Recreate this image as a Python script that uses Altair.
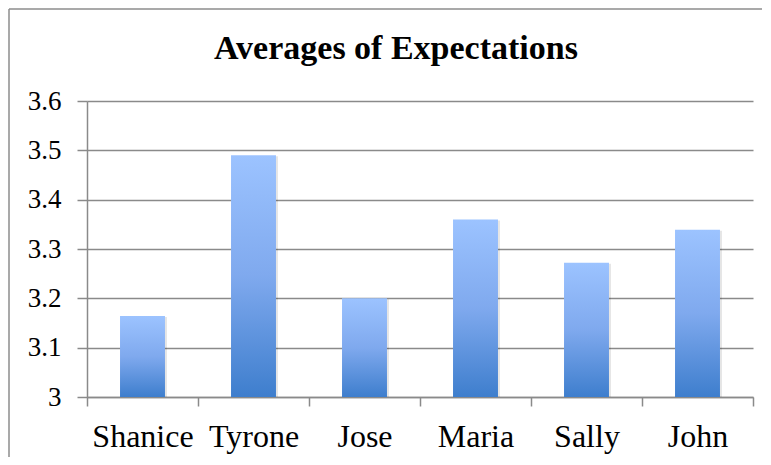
import altair as alt
import pandas as pd

names = ["Shanice", "Tyrone", "Jose", "Maria", "Sally", "John"]
averages = [3.164, 3.49, 3.2, 3.36, 3.272, 3.339]
y_ticks = [3.0, 3.1, 3.2, 3.3, 3.4, 3.5, 3.6]
title_text = "Averages of Expectations"

df = pd.DataFrame({"name": names, "avg": averages})

FONT = "Liberation Serif"
GRID = "#8a8a8a"

x_enc = alt.X(
    "name:N",
    sort=names,
    title=None,
    scale=alt.Scale(paddingInner=0, paddingOuter=0),
    axis=alt.Axis(
        labelAngle=0,
        labelFont=FONT,
        labelFontSize=32,
        labelColor="#000000",
        labelBaseline="alphabetic",
        labelPadding=40,
        tickBand="extent",
        tickSize=9,
        tickColor=GRID,
        tickWidth=1.5,
        domainColor=GRID,
        domainWidth=1.5,
        grid=False,
    ),
)
y_enc = alt.Y(
    "avg:Q",
    title=None,
    scale=alt.Scale(domain=[3.0, 3.6], zero=False, nice=False),
    axis=alt.Axis(
        values=y_ticks,
        format=".1~f",
        labelFont=FONT,
        labelFontSize=27,
        labelColor="#000000",
        labelPadding=16,
        tickSize=10,
        tickColor=GRID,
        tickWidth=1.5,
        domainColor=GRID,
        domainWidth=1.5,
        gridColor=GRID,
        gridWidth=1.5,
        gridOpacity=1,
    ),
)

BAR_BAND = 0.405

shadow = alt.Chart(df).mark_bar(
    color="#000000", opacity=0.10, xOffset=2, yOffset=1,
    width=alt.RelativeBandSize(BAR_BAND)
).encode(x=x_enc, y=y_enc, y2=alt.datum(3.0))

bars = alt.Chart(df).mark_bar(
    width=alt.RelativeBandSize(BAR_BAND),
    color=alt.Gradient(
        gradient="linear",
        x1=0, y1=0, x2=0, y2=1,
        stops=[
            alt.GradientStop(color="#9cc3ff", offset=0),
            alt.GradientStop(color="#7fa9ee", offset=0.5),
            alt.GradientStop(color="#3e7ecd", offset=1),
        ],
    )
).encode(x=x_enc, y=y_enc, y2=alt.datum(3.0))

title = alt.Chart(alt.Data(values=[{"t": title_text}])).mark_text(
    font=FONT, fontSize=34, fontWeight="bold", color="#000000",
    align="center", baseline="alphabetic"
).encode(text="t:N", x=alt.value(309), y=alt.value(-42))

frame = alt.Data(values=[{"b": 1}])
border_top = alt.Chart(frame).mark_rule(
    stroke="#8c8c8c", strokeWidth=1.5
).encode(x=alt.value(-78), x2=alt.value(675), y=alt.value(-92))
border_left = alt.Chart(frame).mark_rule(
    stroke="#8c8c8c", strokeWidth=1.5
).encode(x=alt.value(-78), y=alt.value(-92), y2=alt.value(356))

chart = alt.layer(border_top, border_left, shadow, bars, title).properties(
    width=666, height=296, padding=0, background="#ffffff"
).configure_view(stroke=None)

chart.save("out.html", embed_options={"renderer": "svg", "actions": False})
